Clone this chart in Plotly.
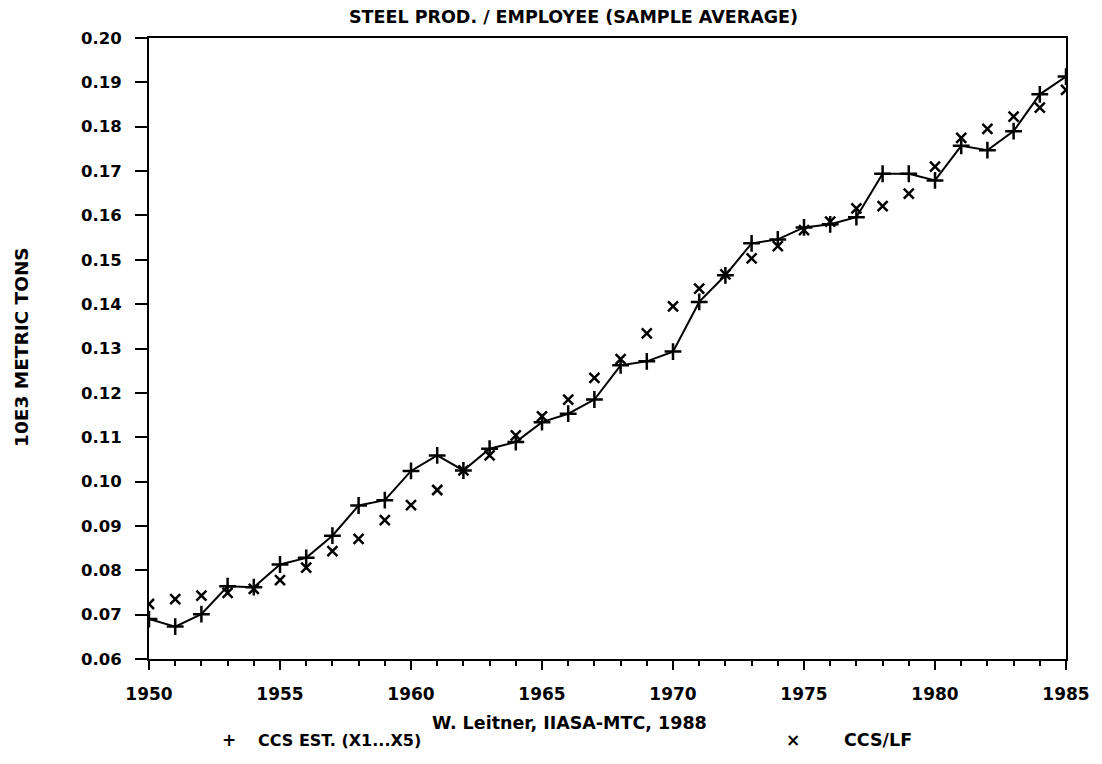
import plotly.graph_objects as go

years = list(range(1950, 1986))
ccs_est = [0.0690, 0.0673, 0.0701, 0.0764, 0.0762, 0.0813, 0.0828, 0.0878, 0.0946, 0.0958,
           0.1024, 0.1059, 0.1025, 0.1074, 0.1089, 0.1134, 0.1153, 0.1185, 0.1262, 0.1271,
           0.1293, 0.1405, 0.1465, 0.1537, 0.1546, 0.1573, 0.1580, 0.1596, 0.1694, 0.1694,
           0.1679, 0.1757, 0.1747, 0.1790, 0.1873, 0.1913]
ccs_lf = [0.0724, 0.0735, 0.0743, 0.0749, 0.0758, 0.0778, 0.0806, 0.0843, 0.0871, 0.0913,
          0.0947, 0.0981, 0.1025, 0.1059, 0.1104, 0.1147, 0.1185, 0.1234, 0.1276, 0.1334,
          0.1395, 0.1435, 0.1467, 0.1503, 0.1531, 0.1567, 0.1586, 0.1616, 0.1621, 0.1649,
          0.1710, 0.1775, 0.1795, 0.1823, 0.1843, 0.1883]

title_text = "STEEL PROD. / EMPLOYEE (SAMPLE AVERAGE)"
y_title = "10E3 METRIC TONS"
source_text = "W. Leitner, IIASA-MTC, 1988"
name_est = "CCS EST. (X1...X5)"
name_lf = "CCS/LF"

# page offset of the figure div (browser body margin)
OFF = 8
W, H = 1102 - OFF, 764 - OFF
L, R, T, B = 149 - OFF, 1073 - OFF, 38 - OFF, 659 - OFF
FONT = "DejaVu Sans"

def px(x):
    return (x - OFF - L) / (R - L)

def py(y):
    return (B - (y - OFF)) / (B - T)

fig = go.Figure()
fig.add_trace(go.Scatter(
    x=years, y=ccs_est, mode="lines+markers", name=name_est,
    line=dict(color="black", width=2),
    marker=dict(symbol="cross-thin", size=12, line=dict(color="black", width=2.5)),
    showlegend=False))
fig.add_trace(go.Scatter(
    x=years, y=ccs_lf, mode="markers", name=name_lf,
    marker=dict(symbol="x-thin", size=10, line=dict(color="black", width=2.5)),
    showlegend=False))

def f(size):
    return dict(family=FONT, size=size, color="black", weight="bold")

fig.update_layout(
    width=W, height=H,
    margin=dict(l=L, r=W - R, t=T, b=H - B),
    paper_bgcolor="white", plot_bgcolor="white",
    font=f(16),
    xaxis=dict(range=[1950, 1985], tick0=1950, dtick=5, ticks="outside", ticklen=9,
               tickwidth=2, tickcolor="black", showline=True, linewidth=2, linecolor="black",
               mirror=True, showgrid=False, zeroline=False,
               tickfont=f(17), ticklabelstandoff=10,
               minor=dict(dtick=1, ticks="outside", ticklen=5, tickwidth=2, tickcolor="black",
                          showgrid=False)),
    yaxis=dict(range=[0.06, 0.20], tick0=0.06, dtick=0.01, tickformat=".2f", ticks="outside",
               ticklen=12, tickwidth=2, tickcolor="black", showline=True, linewidth=2,
               linecolor="black", mirror=True, showgrid=False, zeroline=False,
               tickfont=f(16.5), ticklabelstandoff=10),
)

ann = [
    dict(text=title_text, x=px(577), y=py(17), xanchor="center", yanchor="middle", font=f(17.5)),
    dict(text=y_title, x=px(20), y=py(347), xanchor="center", yanchor="middle", textangle=-90,
         font=f(18.5)),
    dict(text=source_text, x=px(573), y=py(723), xanchor="center", yanchor="middle", font=f(17.5)),
    dict(text="+", x=px(230), y=py(740), xanchor="center", yanchor="middle", font=f(17)),
    dict(text=name_est, x=px(257), y=py(740), xanchor="left", yanchor="middle", font=f(16)),
    dict(text="×", x=px(798), y=py(740), xanchor="center", yanchor="middle", font=f(17)),
    dict(text=name_lf, x=px(847), y=py(740), xanchor="left", yanchor="middle", font=f(17.5)),
]
for a in ann:
    fig.add_annotation(xref="paper", yref="paper", showarrow=False, **a)

fig.write_html("out.html")
